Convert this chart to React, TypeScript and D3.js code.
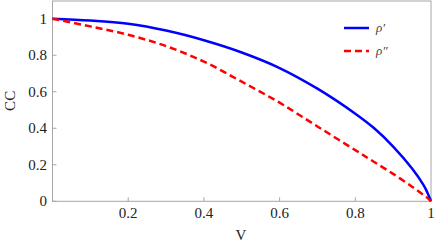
import React, { useEffect, useRef } from "react";
import * as d3 from "d3";

// values
const vValues = [0, 0.1, 0.2, 0.3, 0.4, 0.5, 0.6, 0.7, 0.8, 0.85, 0.9, 0.95, 0.98, 0.99, 1];
const rhoPrime = [1, 0.99, 0.972, 0.935, 0.882, 0.815, 0.73, 0.617, 0.48, 0.4, 0.3, 0.18, 0.09, 0.05, 0];
const rhoDouble = [1, 0.958, 0.912, 0.85, 0.765, 0.655, 0.54, 0.41, 0.28, 0.215, 0.15, 0.08, 0.035, 0.02, 0];
const xTicks = [0.2, 0.4, 0.6, 0.8, 1];
const yTicks = [0, 0.2, 0.4, 0.6, 0.8, 1];
const seriesNames = ["\u03C1\u2032", "\u03C1\u2033"];

export default function App() {
  const ref = useRef<SVGSVGElement>(null);

  useEffect(() => {
    const width = 436;
    const height = 245;
    const left = 52.5, right = 431, top = 1, bottom = 201.3;

    const svg = d3.select(ref.current);
    svg.selectAll("*").remove();

    const x = d3.scaleLinear().domain([0, 1]).range([left, right]);
    const y = d3.scaleLinear().domain([0, 1.097]).range([bottom, top]);

    const font = "Liberation Serif";
    const frameColor = "#a6a6a6";

    // frame
    svg.append("rect")
      .attr("x", left)
      .attr("y", top)
      .attr("width", right - left)
      .attr("height", bottom - top)
      .attr("fill", "none")
      .attr("stroke", frameColor)
      .attr("stroke-width", 1);

    // x axis
    const xAxis = svg.append("g");
    xAxis.selectAll("line")
      .data(xTicks)
      .join("line")
      .attr("x1", (d) => x(d))
      .attr("x2", (d) => x(d))
      .attr("y1", bottom)
      .attr("y2", bottom - 4)
      .attr("stroke", frameColor);
    xAxis.selectAll("text")
      .data(xTicks)
      .join("text")
      .attr("x", (d) => x(d))
      .attr("y", 218)
      .attr("text-anchor", "middle")
      .style("font-family", font)
      .style("font-size", "15px")
      .attr("fill", "#222")
      .text((d) => d3.format("~g")(d));

    // y axis
    const yAxis = svg.append("g");
    yAxis.selectAll("line")
      .data(yTicks)
      .join("line")
      .attr("x1", left)
      .attr("x2", left + 4)
      .attr("y1", (d) => y(d))
      .attr("y2", (d) => y(d))
      .attr("stroke", frameColor);
    yAxis.selectAll("text")
      .data(yTicks)
      .join("text")
      .attr("x", 47)
      .attr("y", (d) => y(d))
      .attr("dy", "0.33em")
      .attr("text-anchor", "end")
      .style("font-family", font)
      .style("font-size", "15px")
      .attr("fill", "#222")
      .text((d) => d3.format("~g")(d));

    // axis labels
    svg.append("text")
      .attr("x", 241)
      .attr("y", 240)
      .attr("text-anchor", "middle")
      .style("font-family", font)
      .style("font-size", "15px")
      .attr("fill", "#222")
      .text("V");
    svg.append("text")
      .attr("transform", `translate(15, ${y(0.55)}) rotate(-90)`)
      .attr("text-anchor", "middle")
      .style("font-family", font)
      .style("font-size", "15px")
      .attr("fill", "#222")
      .text("CC");

    // curves
    const line = d3.line<number>()
      .x((d, i) => x(vValues[i]))
      .y((d) => y(d))
      .curve(d3.curveCatmullRom.alpha(0.5));

    svg.append("path")
      .attr("d", line(rhoPrime))
      .attr("fill", "none")
      .attr("stroke", "#0000ff")
      .attr("stroke-width", 2.5);

    svg.append("path")
      .attr("d", line(rhoDouble))
      .attr("fill", "none")
      .attr("stroke", "#ff0000")
      .attr("stroke-width", 2.5)
      .attr("stroke-dasharray", "7,4");

    // legend
    const legend = svg.append("g");
    const styles = [
      { color: "#0000ff", dash: null, y: 28 },
      { color: "#ff0000", dash: "7,4", y: 51 },
    ];
    styles.forEach((s, i) => {
      legend.append("line")
        .attr("x1", 344)
        .attr("x2", 369)
        .attr("y1", s.y)
        .attr("y2", s.y)
        .attr("stroke", s.color)
        .attr("stroke-width", 2.5)
        .attr("stroke-dasharray", s.dash);
      legend.append("text")
        .attr("x", 376)
        .attr("y", s.y + 4)
        .style("font-family", font)
        .style("font-style", "italic")
        .style("font-size", "13px")
        .attr("fill", "#444")
        .text(seriesNames[i]);
    });

    svg.attr("width", width).attr("height", height);
  }, []);

  return (
    <svg
      ref={ref}
      width={436}
      height={245}
      style={{ position: "absolute", left: 0, top: 0, background: "#fff" }}
    />
  );
}
